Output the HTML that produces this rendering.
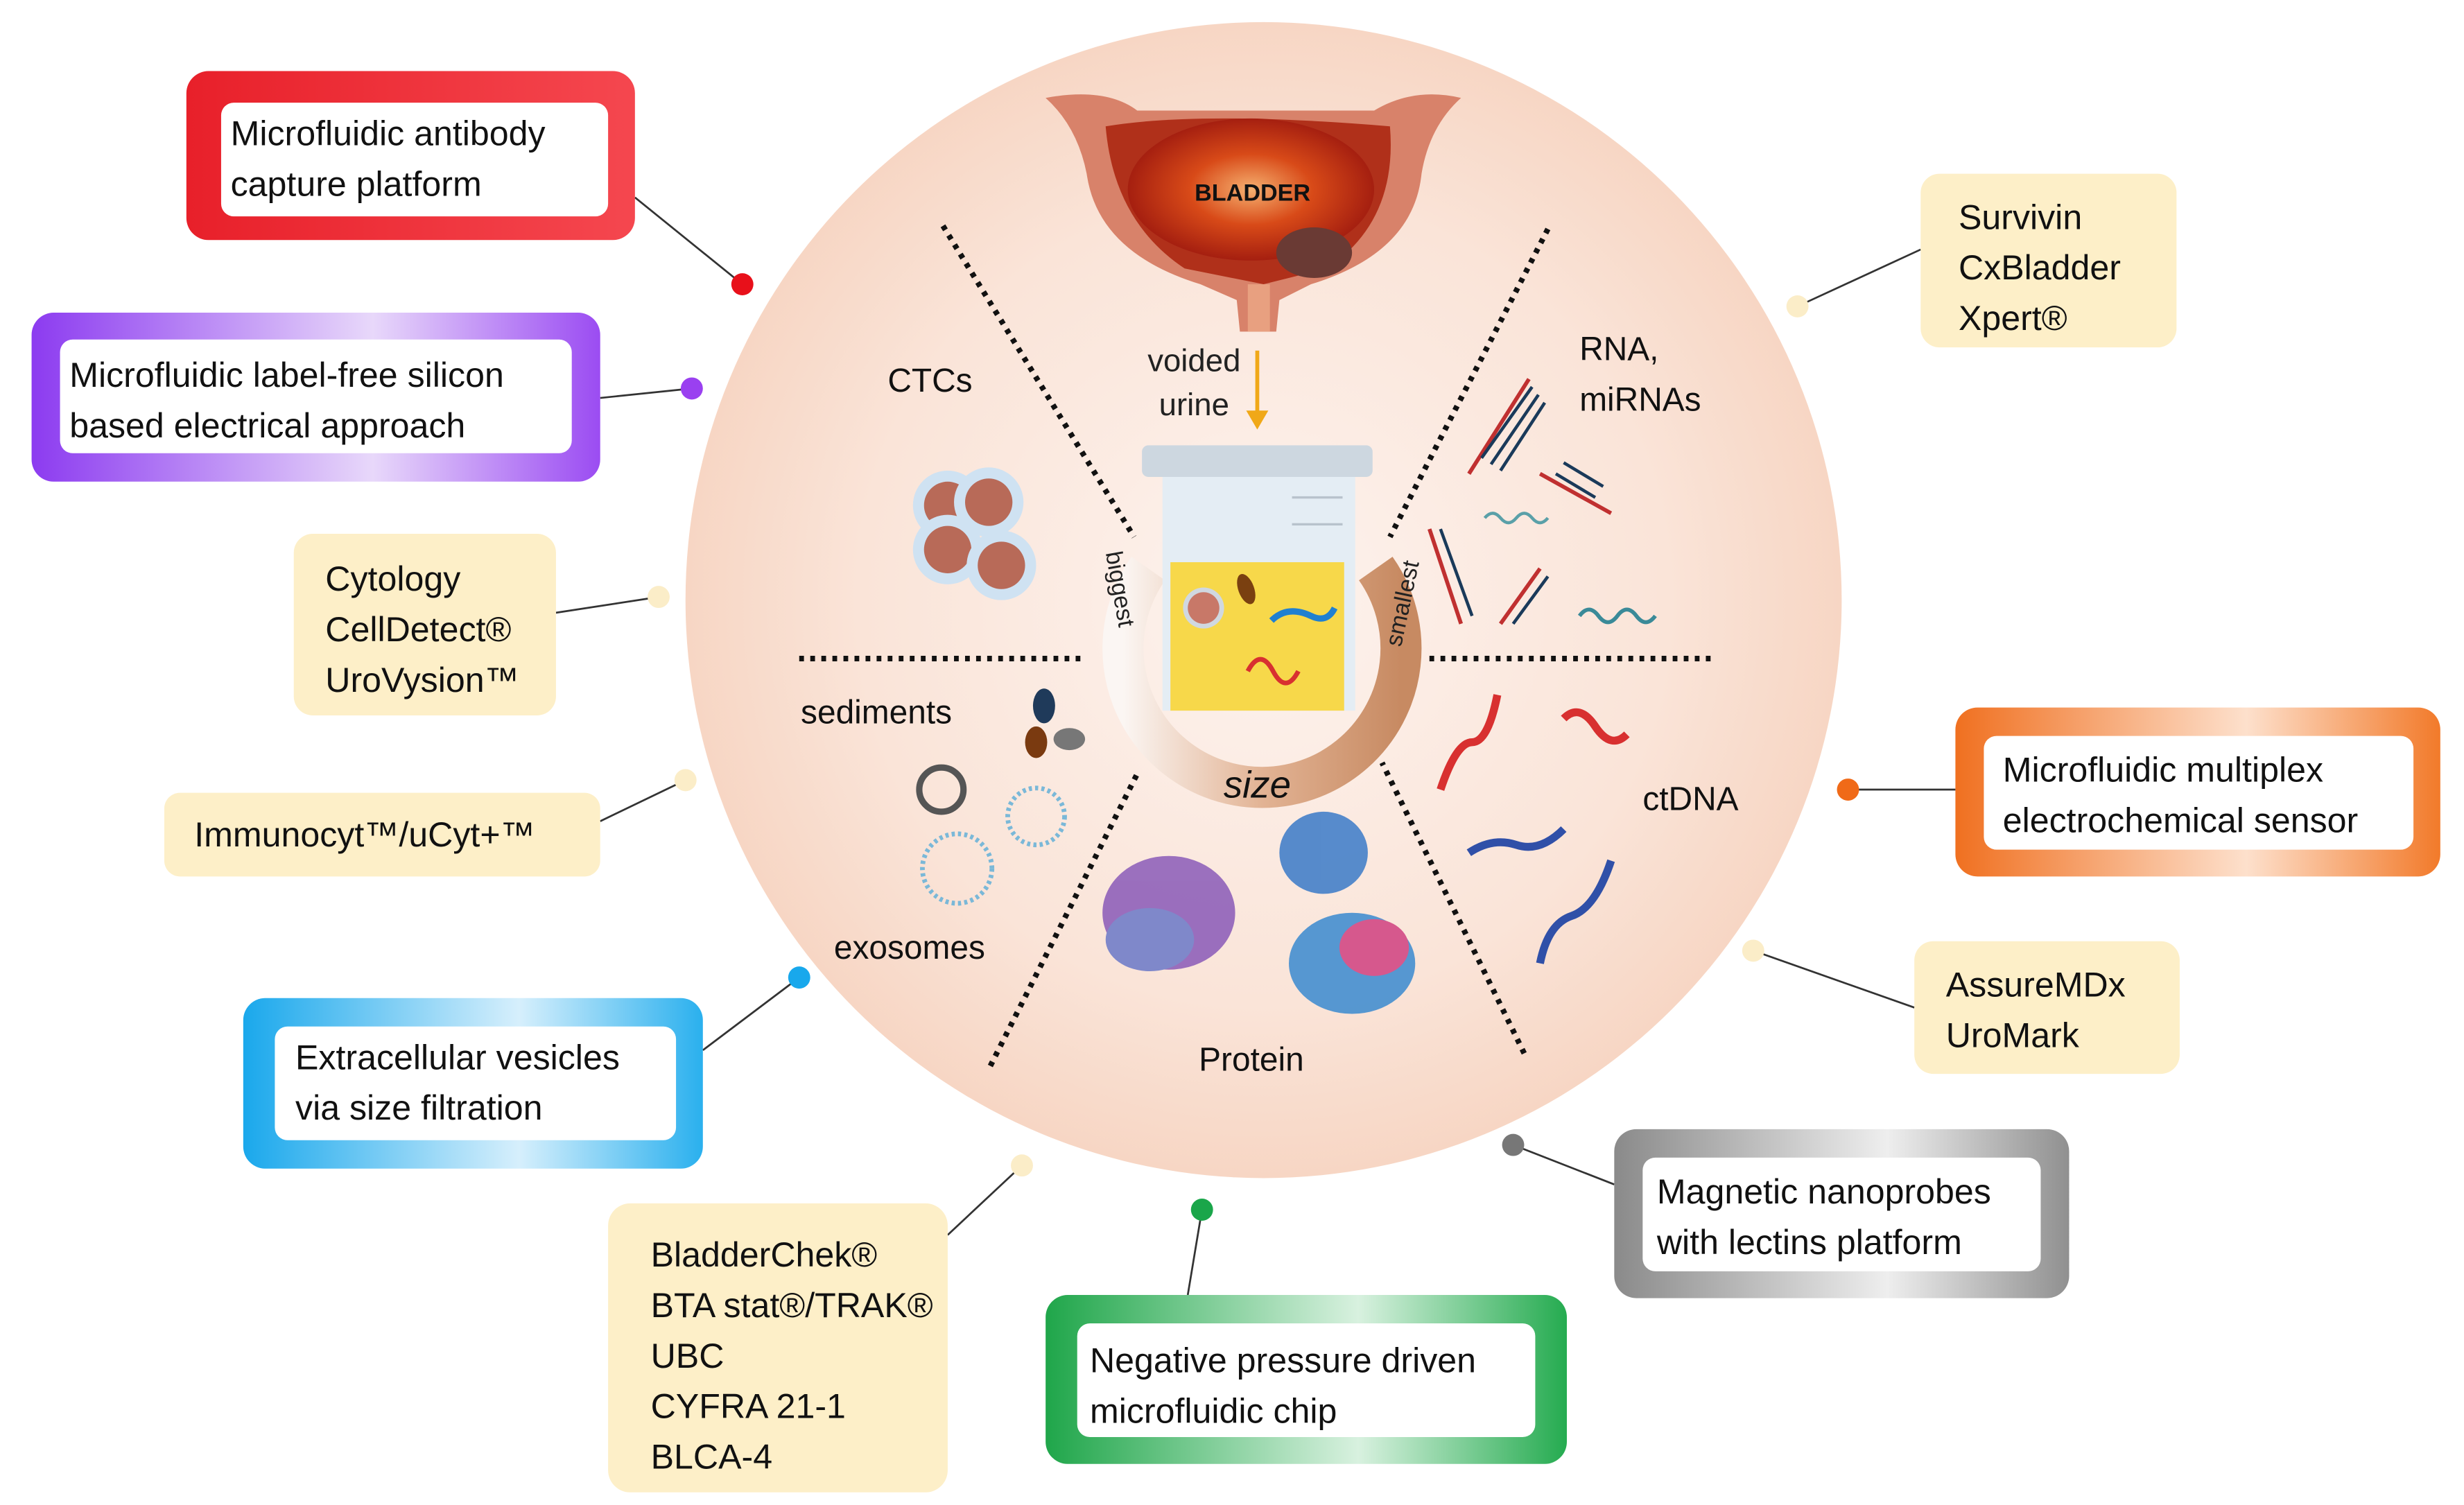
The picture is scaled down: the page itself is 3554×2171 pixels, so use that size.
<!DOCTYPE html>
<html><head><meta charset="utf-8"><style>
html,body{margin:0;padding:0;background:#fff;}
svg{display:block;}
text{font-family:"Liberation Sans",sans-serif;}
</style></head><body>
<svg width="3554" height="2171" viewBox="0 0 1560 953" preserveAspectRatio="none" xmlns="http://www.w3.org/2000/svg">
<defs>
<radialGradient id="bg" cx="0.5" cy="0.5" r="0.5">
<stop offset="0" stop-color="#fdf3ee"/><stop offset="0.7" stop-color="#fae4d8"/><stop offset="1" stop-color="#f7d6c4"/>
</radialGradient>
<linearGradient id="gr" x1="0" x2="1"><stop offset="0" stop-color="#e8202a"/><stop offset="1" stop-color="#f5474f"/></linearGradient>
<linearGradient id="gp" x1="0" x2="1"><stop offset="0" stop-color="#8c3bf0"/><stop offset="0.6" stop-color="#e8d8fa"/><stop offset="1" stop-color="#9b4cf2"/></linearGradient>
<linearGradient id="gb" x1="0" x2="1"><stop offset="0" stop-color="#1aa8ec"/><stop offset="0.6" stop-color="#d6effc"/><stop offset="1" stop-color="#2ab0ee"/></linearGradient>
<linearGradient id="gg" x1="0" x2="1"><stop offset="0" stop-color="#1fa64a"/><stop offset="0.6" stop-color="#d8f1df"/><stop offset="1" stop-color="#25ab50"/></linearGradient>
<linearGradient id="go" x1="0" x2="1"><stop offset="0" stop-color="#f07020"/><stop offset="0.6" stop-color="#fde0cc"/><stop offset="1" stop-color="#f27a2a"/></linearGradient>
<linearGradient id="gy" x1="0" x2="1"><stop offset="0" stop-color="#8a8a8a"/><stop offset="0.6" stop-color="#eeeeee"/><stop offset="1" stop-color="#909090"/></linearGradient>
<linearGradient id="ring" x1="0" x2="1"><stop offset="0" stop-color="#fbf6f3"/><stop offset="0.5" stop-color="#e2b394"/><stop offset="1" stop-color="#c78a62"/></linearGradient>
<radialGradient id="bl" cx="0.5" cy="0.5" r="0.5"><stop offset="0" stop-color="#f5b070"/><stop offset="0.5" stop-color="#d84a18"/><stop offset="1" stop-color="#a51f10"/></radialGradient>
</defs>

<circle cx="800" cy="380" r="366" fill="url(#bg)"/>

<!-- dotted dividers -->
<g stroke="#111" stroke-width="3.5" stroke-dasharray="3 4">
<line x1="597" y1="143" x2="718" y2="340"/>
<line x1="506" y1="417" x2="685" y2="417"/>
<line x1="627" y1="675" x2="720" y2="490"/>
<line x1="980" y1="145" x2="880" y2="340"/>
<line x1="905" y1="417" x2="1083" y2="417"/>
<line x1="965" y1="667" x2="875" y2="483"/>
</g>

<!-- bladder -->
<path d="M662 62 Q700 55 720 70 L870 70 Q895 55 925 62 Q905 80 900 110 Q895 160 830 180 L810 190 L808 210 L785 210 L783 190 L760 180 Q695 160 688 110 Q682 80 662 62Z" fill="#d8826a"/>
<path d="M700 80 Q760 70 880 80 Q885 140 840 170 L800 180 L750 170 Q705 140 700 80Z" fill="#b0301a"/>
<ellipse cx="792" cy="120" rx="78" ry="45" fill="url(#bl)"/>
<text x="793" y="127" font-size="15" font-weight="bold" text-anchor="middle" fill="#111">BLADDER</text>
<ellipse cx="832" cy="160" rx="24" ry="16" fill="#6a3a34"/>
<rect x="790" y="180" width="14" height="30" fill="#e8a080"/>
<text x="756" y="235" font-size="20" text-anchor="middle" fill="#222">voided</text>
<text x="756" y="263" font-size="20" text-anchor="middle" fill="#222">urine</text>
<line x1="796" y1="222" x2="796" y2="262" stroke="#f0a818" stroke-width="2.5"/>
<path d="M789 260 L796 272 L803 260Z" fill="#f0a818"/>

<!-- ring -->
<path d="M727 360 A88 88 0 1 0 871 360" fill="none" stroke="url(#ring)" stroke-width="26"/>
<text x="796" y="505" font-size="24" font-style="italic" text-anchor="middle" fill="#111">size</text>
<text transform="translate(700,350) rotate(80)" font-size="15" fill="#222">biggest</text>
<text transform="translate(887,410) rotate(-78)" font-size="15" fill="#222">smallest</text>

<!-- cup -->
<rect x="736" y="298" width="122" height="152" fill="#e4edf4"/>
<rect x="723" y="282" width="146" height="20" rx="4" fill="#cdd7e0"/>
<rect x="741" y="356" width="110" height="94" fill="#f7d84a"/>
<line x1="818" y1="315" x2="850" y2="315" stroke="#b8c2cc" stroke-width="1.5"/>
<line x1="818" y1="332" x2="850" y2="332" stroke="#b8c2cc" stroke-width="1.5"/>
<circle cx="762" cy="385" r="13" fill="#d0d8e0"/><circle cx="762" cy="385" r="10" fill="#c87868"/>
<ellipse cx="789" cy="373" rx="5" ry="10" fill="#7a4010" transform="rotate(-20 789 373)"/>
<path d="M790 425 q8 -15 16 0 q8 15 16 0" stroke="#d83030" stroke-width="3" fill="none"/>
<path d="M805 393 q10 -10 25 -3 q10 5 15 -5" stroke="#2080d0" stroke-width="4" fill="none"/>

<!-- category labels -->
<g font-size="21" fill="#111">
<text x="562" y="248">CTCs</text>
<text x="1000" y="228">RNA,</text>
<text x="1000" y="260">miRNAs</text>
<text x="507" y="458">sediments</text>
<text x="1040" y="513">ctDNA</text>
<text x="528" y="607">exosomes</text>
<text x="759" y="678">Protein</text>
</g>

<!-- CTCs -->
<g>
<circle cx="600" cy="320" r="22" fill="#cfe2f2"/><circle cx="600" cy="320" r="15" fill="#b86a58"/>
<circle cx="626" cy="318" r="22" fill="#cfe2f2"/><circle cx="626" cy="318" r="15" fill="#b86a58"/>
<circle cx="600" cy="348" r="22" fill="#cfe2f2"/><circle cx="600" cy="348" r="15" fill="#b86a58"/>
<circle cx="634" cy="358" r="22" fill="#cfe2f2"/><circle cx="634" cy="358" r="15" fill="#b86a58"/>
</g>
<!-- sediments -->
<ellipse cx="661" cy="447" rx="7" ry="11" fill="#1f3a5a"/>
<ellipse cx="656" cy="470" rx="7" ry="10" fill="#7a3a10"/>
<ellipse cx="677" cy="468" rx="10" ry="7" fill="#777"/>
<!-- exosomes -->
<circle cx="596" cy="500" r="14" fill="none" stroke="#555" stroke-width="4"/>
<circle cx="656" cy="517" r="18" fill="none" stroke="#7ab8d8" stroke-width="3" stroke-dasharray="2 2"/>
<circle cx="606" cy="550" r="22" fill="none" stroke="#7ab8d8" stroke-width="3" stroke-dasharray="2 2"/>

<!-- RNA -->
<g stroke="#c03030" stroke-width="2.5" fill="none">
<path d="M930 300 L968 240"/><path d="M975 300 L1020 325"/><path d="M905 335 L925 395"/><path d="M950 395 L975 360"/>
</g>
<g stroke="#1a3a5a" stroke-width="2" fill="none">
<path d="M938 290 L970 245 M944 294 L974 250 M950 298 L978 255"/>
<path d="M985 300 L1010 315 M990 293 L1015 308"/>
<path d="M912 335 L932 390"/>
<path d="M958 395 L980 365"/>
</g>
<path d="M940 328 q5 -6 10 0 q5 6 10 0 q5 -6 10 0 q5 6 10 0" stroke="#5aa0a8" stroke-width="2" fill="none"/>
<path d="M1000 390 q6 -8 12 0 q6 8 12 0 q6 -8 12 0 q6 8 12 0" stroke="#3a8a98" stroke-width="2.5" fill="none"/>

<!-- ctDNA -->
<g fill="none" stroke-width="5">
<path d="M912 500 q10 -30 20 -30 q10 0 16 -30" stroke="#d83030"/>
<path d="M990 455 q10 -10 20 5 q10 15 20 5" stroke="#d83030"/>
<path d="M930 540 q15 -10 30 -5 q15 5 30 -10" stroke="#3050a8"/>
<path d="M975 610 q5 -25 20 -30 q15 -5 25 -35" stroke="#3050a8"/>
</g>

<!-- proteins -->
<g opacity="0.85">
<ellipse cx="740" cy="578" rx="42" ry="36" fill="#8a5ab8"/>
<ellipse cx="728" cy="595" rx="28" ry="20" fill="#6a78c8"/>
<ellipse cx="838" cy="540" rx="28" ry="26" fill="#3a7ac8"/>
<ellipse cx="856" cy="610" rx="40" ry="32" fill="#3a8ad0"/>
<ellipse cx="870" cy="600" rx="22" ry="18" fill="#d04080"/>
</g>

<!-- connector lines -->
<g stroke="#333" stroke-width="1.2">
<line x1="402" y1="125" x2="470" y2="180"/>
<line x1="380" y1="252" x2="438" y2="246"/>
<line x1="352" y1="388" x2="417" y2="378"/>
<line x1="380" y1="520" x2="434" y2="494"/>
<line x1="445" y1="665" x2="506" y2="619"/>
<line x1="600" y1="782" x2="647" y2="738"/>
<line x1="752" y1="820" x2="761" y2="766"/>
<line x1="1022" y1="750" x2="958" y2="725"/>
<line x1="1212" y1="638" x2="1110" y2="602"/>
<line x1="1238" y1="500" x2="1170" y2="500"/>
<line x1="1216" y1="158" x2="1138" y2="194"/>
</g>
<g>
<circle cx="470" cy="180" r="7" fill="#e8101a"/>
<circle cx="438" cy="246" r="7" fill="#9a40f0"/>
<circle cx="417" cy="378" r="7" fill="#fbedc8"/>
<circle cx="434" cy="494" r="7" fill="#fbedc8"/>
<circle cx="506" cy="619" r="7" fill="#18a8ec"/>
<circle cx="647" cy="738" r="7" fill="#fbedc8"/>
<circle cx="761" cy="766" r="7" fill="#1aa64a"/>
<circle cx="958" cy="725" r="7" fill="#777"/>
<circle cx="1110" cy="602" r="7" fill="#fbedc8"/>
<circle cx="1170" cy="500" r="7" fill="#f06a18"/>
<circle cx="1138" cy="194" r="7" fill="#fbedc8"/>
</g>

<!-- colored boxes -->
<g font-size="22" fill="#111">
<rect x="118" y="45" width="284" height="107" rx="14" fill="url(#gr)"/>
<rect x="140" y="65" width="245" height="72" rx="8" fill="#fff"/>
<text x="146" y="92">Microfluidic antibody</text><text x="146" y="124">capture platform</text>

<rect x="20" y="198" width="360" height="107" rx="14" fill="url(#gp)"/>
<rect x="38" y="215" width="324" height="72" rx="8" fill="#fff"/>
<text x="44" y="245">Microfluidic label-free silicon</text><text x="44" y="277">based electrical approach</text>

<rect x="154" y="632" width="291" height="108" rx="14" fill="url(#gb)"/>
<rect x="174" y="650" width="254" height="72" rx="8" fill="#fff"/>
<text x="187" y="677">Extracellular vesicles</text><text x="187" y="709">via size filtration</text>

<rect x="662" y="820" width="330" height="107" rx="14" fill="url(#gg)"/>
<rect x="682" y="838" width="290" height="72" rx="8" fill="#fff"/>
<text x="690" y="869">Negative pressure driven</text><text x="690" y="901">microfluidic chip</text>

<rect x="1022" y="715" width="288" height="107" rx="14" fill="url(#gy)"/>
<rect x="1040" y="733" width="252" height="72" rx="8" fill="#fff"/>
<text x="1049" y="762">Magnetic nanoprobes</text><text x="1049" y="794">with lectins platform</text>

<rect x="1238" y="448" width="307" height="107" rx="14" fill="url(#go)"/>
<rect x="1256" y="466" width="272" height="72" rx="8" fill="#fff"/>
<text x="1268" y="495">Microfluidic multiplex</text><text x="1268" y="527">electrochemical sensor</text>

<!-- yellow boxes -->
<g fill="#fdefc8">
<rect x="186" y="338" width="166" height="115" rx="12"/>
<rect x="104" y="502" width="276" height="53" rx="10"/>
<rect x="385" y="762" width="215" height="183" rx="14"/>
<rect x="1212" y="596" width="168" height="84" rx="12"/>
<rect x="1216" y="110" width="162" height="110" rx="12"/>
</g>
<text x="206" y="374">Cytology</text><text x="206" y="406">CellDetect®</text><text x="206" y="438">UroVysion™</text>
<text x="123" y="536">Immunocyt™/uCyt+™</text>
<text x="412" y="802">BladderChek®</text><text x="412" y="834">BTA stat®/TRAK®</text><text x="412" y="866">UBC</text><text x="412" y="898">CYFRA 21-1</text><text x="412" y="930">BLCA-4</text>
<text x="1232" y="631">AssureMDx</text><text x="1232" y="663">UroMark</text>
<text x="1240" y="145">Survivin</text><text x="1240" y="177">CxBladder</text><text x="1240" y="209">Xpert®</text>
</g>
</svg>
</body></html>
